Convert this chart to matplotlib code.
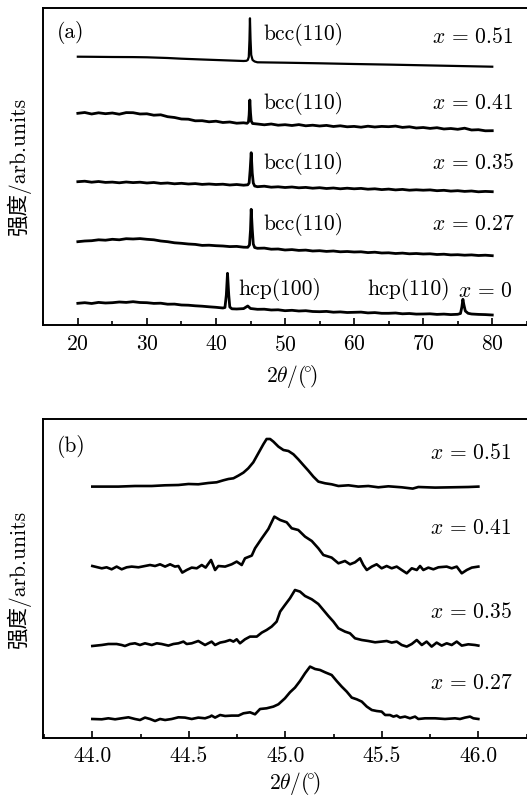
import matplotlib
matplotlib.use("Agg")
import matplotlib.pyplot as plt
from matplotlib.ticker import MultipleLocator

plt.rcParams['font.family'] = ['cmr10', 'Noto Sans CJK SC', 'DejaVu Sans']
plt.rcParams['mathtext.fontset'] = 'cm'
plt.rcParams['axes.formatter.use_mathtext'] = True
plt.rcParams['axes.unicode_minus'] = False

# ---------------- panel (a): full XRD patterns ----------------
a_labels = [r'$x\,=\,0.51$', r'$x\,=\,0.41$', r'$x\,=\,0.35$', r'$x\,=\,0.27$', r'$x\,=\,0$']

a_theta_051 = [20, 22, 25, 28, 30, 33, 35, 38, 40, 42, 44, 44.4, 44.6, 44.75, 44.85, 44.92,
               45.0, 45.1, 45.3, 45.6, 46, 48, 50, 55, 60, 65, 70, 75, 80]
a_int_051 = [268.3, 268.2, 268.0, 267.9, 267.7, 267.0, 266.3, 265.5, 265.0, 264.5, 264.0, 264.2,
             265.0, 268.0, 285.0, 306.7, 286.0, 270.0, 265.0, 263.5, 262.7, 262.5, 262.3, 261.7,
             261.0, 260.4, 259.7, 259.0, 258.3]

a_theta_041 = [20, 21, 22, 23, 24, 25, 26, 27, 28, 29, 30, 31, 32, 33, 34, 35, 36, 37, 38, 39, 40,
               41, 42, 43, 44, 44.5, 44.7, 44.8, 44.9, 45.0, 45.1, 45.3, 46, 47, 48, 49, 50, 51,
               52, 53, 54, 55, 56, 57, 58, 59, 60, 61, 62, 63, 64, 65, 66, 67, 68, 69, 70, 71,
               72, 73, 74, 75, 76, 77, 78, 79, 80]
a_int_041 = [211.7, 212.5, 211.0, 212.2, 211.3, 212.0, 210.8, 212.4, 212.3, 211.0, 211.2, 209.8,
             210.2, 208.3, 207.5, 206.0, 205.8, 204.2, 204.3, 203.2, 203.8, 202.5, 203.0, 201.8,
             202.2, 201.7, 203.0, 210.0, 225.0, 212.0, 204.0, 201.5, 201.0, 200.2, 201.0, 199.8,
             200.3, 199.5, 200.4, 199.2, 199.8, 199.0, 199.6, 198.5, 199.2, 198.2, 198.6, 197.8,
             198.8, 198.0, 198.6, 198.3, 198.9, 197.6, 198.2, 197.0, 197.5, 196.6, 197.3, 196.0,
             196.5, 195.7, 196.8, 195.0, 195.3, 194.2, 194.3]

a_theta_035 = [20, 21, 22, 23, 24, 25, 26, 27, 28, 29, 30, 31, 32, 33, 34, 35, 36, 37, 38, 39, 40,
               41, 42, 43, 44, 44.6, 44.8, 44.95, 45.1, 45.25, 45.4, 45.6, 46, 47, 48, 49, 50, 51,
               52, 53, 54, 55, 56, 57, 58, 59, 60, 61, 62, 63, 64, 65, 66, 67, 68, 69, 70, 71,
               72, 73, 74, 75, 76, 77, 78, 79, 80]
a_int_035 = [143.3, 143.8, 142.8, 143.5, 142.6, 142.9, 142.2, 143.0, 142.4, 142.8, 142.0, 142.5,
             141.6, 142.0, 141.2, 141.7, 141.0, 141.4, 140.6, 141.0, 140.5, 140.8, 140.0, 140.5,
             139.8, 140.2, 142.0, 155.0, 172.3, 152.0, 142.0, 139.0, 138.3, 138.8, 137.8, 138.2,
             137.5, 138.0, 137.2, 137.6, 136.8, 137.3, 136.5, 137.0, 136.2, 136.8, 136.2, 136.6,
             135.8, 136.2, 135.4, 135.9, 135.1, 135.6, 134.8, 135.2, 134.8, 135.1, 134.3, 134.7,
             133.9, 134.3, 133.6, 134.0, 133.2, 133.6, 133.3]

a_theta_027 = [20, 21, 22, 23, 24, 25, 26, 27, 28, 29, 30, 31, 32, 33, 34, 35, 36, 37, 38, 39, 40,
               41, 42, 43, 44, 44.6, 44.85, 45.0, 45.1, 45.25, 45.4, 45.6, 46, 47, 48, 49, 50, 51,
               52, 53, 54, 55, 56, 57, 58, 59, 60, 61, 62, 63, 64, 65, 66, 67, 68, 69, 70, 71,
               72, 73, 74, 75, 76, 77, 78, 79, 80]
a_int_027 = [83.3, 84.0, 84.3, 85.2, 84.8, 85.7, 85.2, 86.3, 86.0, 86.4, 85.7, 85.2, 84.0, 83.3,
             82.2, 81.7, 81.0, 80.6, 79.6, 79.8, 79.3, 79.0, 78.4, 78.6, 77.8, 77.7, 80.0, 95.0,
             115.7, 96.0, 81.0, 77.5, 76.7, 76.9, 75.8, 76.0, 75.0, 75.4, 74.6, 74.9, 74.0, 74.3,
             73.6, 74.0, 73.2, 73.5, 73.0, 73.2, 72.4, 72.8, 72.0, 72.2, 71.5, 71.9, 71.2, 71.5,
             71.0, 71.2, 70.5, 70.8, 70.1, 70.3, 69.8, 70.1, 69.5, 69.8, 69.3]

a_theta_000 = [20, 21, 22, 23, 24, 25, 26, 27, 28, 29, 30, 31, 32, 33, 34, 35, 36, 37, 38, 39, 40,
               41, 41.3, 41.5, 41.67, 41.85, 42.0, 42.3, 43, 44, 44.6, 45.0, 46, 47, 48, 49, 50,
               51, 52, 53, 54, 55, 56, 57, 58, 59, 60, 61, 62, 63, 64, 65, 66, 67, 68, 69, 70,
               71, 72, 73, 74, 75, 75.4, 75.6, 75.75, 75.9, 76.1, 76.5, 77, 78, 79, 80]
a_int_000 = [21.7, 22.3, 21.5, 22.6, 22.0, 22.3, 23.0, 22.6, 23.3, 22.5, 22.3, 21.6, 21.8, 20.8,
             20.9, 20.0, 19.8, 19.2, 18.8, 18.2, 17.7, 17.0, 17.5, 30.0, 51.7, 30.0, 18.0, 16.2,
             16.0, 16.4, 19.0, 16.5, 15.7, 15.8, 15.0, 15.2, 14.3, 14.7, 14.0, 14.3, 13.5, 13.3,
             13.6, 12.8, 13.1, 12.5, 12.7, 12.9, 12.1, 12.4, 11.7, 11.7, 12.0, 11.2, 11.5, 10.9,
             11.0, 11.2, 10.6, 10.9, 10.4, 10.7, 11.5, 18.0, 25.7, 20.0, 14.0, 11.7, 11.0, 10.6,
             10.4, 10.0]

a_thetas = [a_theta_051, a_theta_041, a_theta_035, a_theta_027, a_theta_000]
a_ints = [a_int_051, a_int_041, a_int_035, a_int_027, a_int_000]
a_peak_labels = [('bcc(110)', 46.9, 290.0), ('bcc(110)', 46.9, 221.7), ('bcc(110)', 46.9, 161.7),
                 ('bcc(110)', 46.9, 101.0), ('hcp(100)', 43.2, 35.7), ('hcp(110)', 61.9, 35.7)]
a_label_y = [288.3, 221.7, 161.7, 101.0, 33.3]
a_label_x = [71.3, 71.3, 71.3, 71.3, 75.0]

# ---------------- panel (b): bcc(110) detail ----------------
b_labels = [r'$x\,=\,0.51$', r'$x\,=\,0.41$', r'$x\,=\,0.35$', r'$x\,=\,0.27$']
b_offsets = [249.4, 169.4, 94.4, 19.4]

b_theta_051 = [44.0, 44.135, 44.221, 44.308, 44.377, 44.446, 44.498, 44.549, 44.601, 44.644,
               44.679, 44.705, 44.731, 44.757, 44.783, 44.808, 44.834, 44.860, 44.886, 44.903,
               44.921, 44.938, 44.964, 44.990, 45.016, 45.042, 45.067, 45.093, 45.119, 45.145,
               45.171, 45.206, 45.240, 45.275, 45.327, 45.378, 45.430, 45.482, 45.534, 45.603,
               45.660, 45.689, 45.776, 45.862, 45.948, 46.0]
b_int_051 = [1.7, 1.7, 2.3, 2.3, 3.0, 3.3, 4.3, 4.0, 5.3, 6.0, 8.0, 9.3, 10.0, 12.7, 15.7, 20.0,
             26.0, 35.0, 44.0, 49.3, 49.3, 46.7, 41.7, 38.3, 37.3, 34.0, 29.0, 23.3, 17.7, 11.7,
             6.7, 5.0, 4.0, 2.3, 3.0, 1.7, 2.3, 1.0, 2.0, 1.0, -0.3, 1.3, 0.7, 1.0, 1.3, 1.7]

b_theta_041 = [44.0, 44.049, 44.074, 44.100, 44.126, 44.152, 44.178, 44.204, 44.239, 44.273,
               44.299, 44.325, 44.351, 44.377, 44.403, 44.428, 44.446, 44.466, 44.489, 44.515,
               44.541, 44.567, 44.587, 44.615, 44.636, 44.653, 44.688, 44.722, 44.748, 44.774,
               44.791, 44.826, 44.843, 44.878, 44.912, 44.943, 44.973, 45.007, 45.033, 45.067,
               45.102, 45.137, 45.171, 45.197, 45.240, 45.275, 45.309, 45.335, 45.361, 45.387,
               45.404, 45.422, 45.448, 45.473, 45.499, 45.525, 45.551, 45.577, 45.603, 45.629,
               45.655, 45.681, 45.698, 45.715, 45.741, 45.767, 45.793, 45.836, 45.862, 45.888,
               45.914, 45.940, 45.966, 46.0]
b_int_041 = [2.3, 0.0, 1.0, -1.0, 1.7, -1.0, 1.0, 1.7, 1.0, 2.3, 3.3, 2.3, 4.0, 1.7, 4.0, 1.7,
             2.3, -4.3, -1.7, 0.7, 0.0, 3.3, 0.7, 8.3, -1.7, 2.3, 1.7, 4.0, 6.7, 3.3, 10.0, 12.7,
             20.0, 30.0, 39.3, 51.7, 48.3, 46.0, 40.0, 38.3, 31.7, 27.3, 20.0, 13.3, 10.7, 5.0,
             7.3, 4.0, 6.0, 10.0, 3.3, -1.7, 1.7, 4.0, 0.0, 2.3, 0.0, 1.7, -1.7, -5.0, 0.0, -1.7,
             2.3, -1.7, 0.7, -1.0, 1.0, 1.7, 0.0, 1.7, -5.0, -1.7, 0.7, 1.7]

b_theta_035 = [44.0, 44.049, 44.083, 44.126, 44.152, 44.169, 44.195, 44.221, 44.247, 44.273,
               44.308, 44.334, 44.359, 44.394, 44.420, 44.446, 44.472, 44.489, 44.515, 44.549,
               44.584, 44.618, 44.636, 44.662, 44.688, 44.713, 44.731, 44.748, 44.765, 44.791,
               44.817, 44.852, 44.878, 44.903, 44.929, 44.955, 44.973, 44.998, 45.024, 45.050,
               45.076, 45.102, 45.137, 45.171, 45.197, 45.223, 45.249, 45.275, 45.309, 45.335,
               45.361, 45.396, 45.430, 45.465, 45.499, 45.525, 45.551, 45.577, 45.603, 45.629,
               45.655, 45.681, 45.707, 45.732, 45.758, 45.784, 45.810, 45.836, 45.862, 45.888,
               45.914, 45.948, 45.983, 46.0]
b_int_035 = [-2.7, -1.7, -0.7, -0.7, -1.7, -2.7, -0.7, 0.0, -1.7, 0.0, -1.7, 0.0, -0.7, -2.3,
             -0.7, 0.0, 1.7, -0.7, 0.0, 2.3, -1.7, 1.7, -1.7, 0.7, 1.7, 3.3, 1.7, 4.0, 0.0, 4.0,
             6.7, 6.7, 10.7, 13.3, 16.7, 21.7, 31.7, 38.3, 45.0, 53.3, 51.7, 47.3, 44.0, 39.3,
             33.3, 27.3, 21.7, 15.0, 11.7, 10.0, 5.0, 3.3, 2.3, 1.0, 1.7, 2.3, 0.7, 1.7, -1.7,
             -3.3, -0.7, 3.3, -1.7, 1.7, -3.3, 0.7, -2.3, 0.0, -1.7, 1.7, -2.3, -1.0, -1.7, -2.3]

b_theta_027 = [44.0, 44.049, 44.083, 44.118, 44.152, 44.187, 44.221, 44.247, 44.273, 44.299,
               44.325, 44.351, 44.377, 44.411, 44.446, 44.480, 44.515, 44.549, 44.584, 44.610,
               44.618, 44.636, 44.662, 44.688, 44.722, 44.757, 44.783, 44.817, 44.843, 44.869,
               44.903, 44.938, 44.964, 44.998, 45.024, 45.050, 45.076, 45.102, 45.128, 45.154,
               45.180, 45.206, 45.240, 45.266, 45.292, 45.318, 45.344, 45.370, 45.396, 45.422,
               45.448, 45.473, 45.499, 45.517, 45.542, 45.560, 45.577, 45.594, 45.620, 45.646,
               45.672, 45.689, 45.724, 45.776, 45.827, 45.879, 45.905, 45.931, 45.957, 45.974,
               46.0]
b_int_027 = [-0.7, -1.0, 0.0, -1.0, 0.0, 1.0, -0.7, -1.7, 0.7, -0.7, -2.7, -0.7, -1.7, -0.7,
             1.0, 0.7, -0.7, 0.7, 0.0, 1.7, 2.7, 0.7, 3.3, 2.3, 2.7, 2.7, 5.0, 6.0, 4.0, 9.3,
             10.0, 11.7, 14.0, 20.0, 26.0, 30.7, 37.3, 45.0, 51.7, 49.3, 48.3, 46.0, 43.3, 37.3,
             31.7, 26.7, 20.7, 19.0, 16.7, 11.7, 8.3, 7.3, 6.7, 3.3, 3.3, 1.7, 2.7, 0.7, 1.7,
             0.0, 1.7, -0.7, 0.0, 0.0, -0.7, 0.0, -0.7, 0.7, 1.7, 0.0, -0.7]

b_thetas = [b_theta_051, b_theta_041, b_theta_035, b_theta_027]
b_ints = [b_int_051, b_int_041, b_int_035, b_int_027]
b_label_y = [284.4, 209.4, 126.0, 54.4]

FS = 15.5
W, H = 527, 799
fig = plt.figure(figsize=(W / 100, H / 100), dpi=100)

ax1 = fig.add_axes([43.3 / W, (799 - 325) / H, 497.3 / W, 317.5 / H])
ax2 = fig.add_axes([43.3 / W, (799 - 737.7) / H, 502.6 / W, 318.4 / H])

lws = [1.6, 2.0, 2.0, 2.0, 2.0]
for th, it, lw in zip(a_thetas, a_ints, lws):
    ax1.plot(th, it, color='black', lw=lw, solid_joinstyle='round')
for (txt, xx, yy) in a_peak_labels:
    ax1.text(xx, yy, txt, fontsize=FS, va='center', ha='left')
for lab, xx, yy in zip(a_labels, a_label_x, a_label_y):
    ax1.text(xx, yy, lab, fontsize=FS, va='center', ha='left')
ax1.text(17.0, 292, '(a)', fontsize=FS, va='center', ha='left')
ax1.set_xlim(15, 87)
ax1.set_ylim(0, 317.5)
ax1.xaxis.set_major_locator(MultipleLocator(10))
ax1.xaxis.set_minor_locator(MultipleLocator(5))

for th, it, off in zip(b_thetas, b_ints, b_offsets):
    ax2.plot(th, [v + off for v in it], color='black', lw=1.9, solid_joinstyle='round')
for lab, yy in zip(b_labels, b_label_y):
    ax2.text(45.75, yy, lab, fontsize=FS, va='center', ha='left')
ax2.text(43.816, 291, '(b)', fontsize=FS, va='center', ha='left')
ax2.set_xlim(43.746, 46.35)
ax2.set_ylim(0, 318.4)
ax2.xaxis.set_major_locator(MultipleLocator(0.5))
ax2.xaxis.set_minor_locator(MultipleLocator(0.25))
ax2.xaxis.set_major_formatter(plt.FormatStrFormatter('%.1f'))

for ax, pad, lp in ((ax1, 7, 6), (ax2, 6, 3)):
    ax.set_yticks([])
    ax.tick_params(axis='x', which='major', direction='in', length=5, width=1.2,
                   labelsize=FS, pad=pad)
    ax.tick_params(axis='x', which='minor', direction='in', length=3, width=1.2)
    for s in ax.spines.values():
        s.set_linewidth(1.4)
    ax.spines['right'].set_visible(False)
    ax.set_xlabel(r'$2\theta/(\!^{\circ}\!)$', fontsize=FS, labelpad=lp)
    ax.set_ylabel('强度/arb.units', fontsize=FS, labelpad=9)

fig.savefig('out.png', dpi=100)
